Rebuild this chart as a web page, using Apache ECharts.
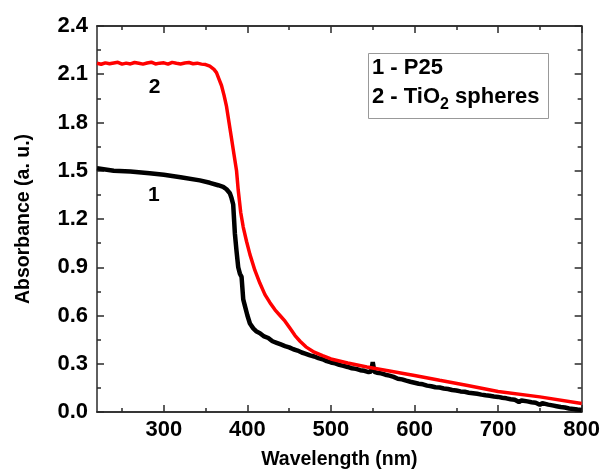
<!DOCTYPE html>
<html>
<head>
<meta charset="utf-8">
<script src="https://cdn.jsdelivr.net/npm/echarts@6/dist/echarts.min.js"></script>
<style>html,body{margin:0;padding:0;background:#fff}#c{width:603px;height:475px}</style>
</head>
<body>
<div id="c"></div>
<script>
// Series 2: TiO2 spheres (red)
const wl2 = [220,225,230,235,240,245,250,255,260,265,270,275,280,285,290,295,300,305,310,315,320,325,330,335,340,345,350,
  355,360,363,366,369,372,375,378,381,384,387,389,392,395,399,403,409,415,421,427,433,439,445,451,457,463,470,480,490,500,520,543,570,600,630,662,700,750,800];
const abs2 = [2.168,2.162,2.171,2.165,2.17,2.174,2.163,2.169,2.164,2.173,2.168,2.163,2.17,2.175,2.164,2.169,2.171,2.163,2.174,2.168,2.164,2.17,2.173,2.165,2.169,2.163,2.16,
  2.15,2.13,2.11,2.07,2.03,1.97,1.90,1.80,1.70,1.60,1.50,1.38,1.24,1.15,1.06,0.98,0.88,0.80,0.73,0.68,0.635,0.60,0.565,0.52,0.475,0.44,0.405,0.372,0.35,0.33,0.305,0.28,0.255,0.227,0.197,0.166,0.127,0.094,0.053];

// Series 1: P25 (black)
const wl1 = [220,240,260,283,300,320,343,355,365,371,375,379,381,383,384,385,387,389,391,393,395,397,400,403,407,411,415,420,425,430,435,
  440,445,450,455,460,465,470,475,480,485,490,495,500,505,510,515,520,525,530,535,540,545,548,550,552,555,560,565,570,575,580,585,590,595,600,
  605,610,615,620,625,630,635,640,645,650,655,660,665,670,675,680,685,690,695,700,705,710,715,720,725,728,735,740,745,750,753,760,765,770,775,780,785,790,795,800];
const abs1 = [1.515,1.50,1.495,1.485,1.475,1.46,1.44,1.425,1.41,1.40,1.385,1.36,1.33,1.29,1.20,1.11,1.00,0.90,0.86,0.84,0.70,0.66,0.60,0.55,0.52,0.50,0.49,0.47,0.46,0.44,0.43,
  0.42,0.41,0.402,0.39,0.382,0.37,0.362,0.352,0.345,0.335,0.328,0.316,0.308,0.302,0.293,0.287,0.28,0.272,0.268,0.26,0.256,0.248,0.252,0.31,0.25,0.244,0.24,0.232,0.226,0.218,0.207,0.203,0.195,0.188,0.182,
  0.176,0.172,0.164,0.16,0.154,0.152,0.146,0.143,0.137,0.134,0.128,0.126,0.12,0.117,0.113,0.108,0.104,0.101,0.096,0.094,0.089,0.085,0.079,0.076,0.062,0.072,0.066,0.061,0.058,0.045,0.055,0.046,0.041,0.036,0.031,0.028,0.022,0.019,0.015,0.012];

const xMajor = [300,400,500,600,700,800];
const xMinor = [250,350,450,550,650,750];
const curveLabels = [{name:'2', wl:289, v:2.02}, {name:'1', wl:288, v:1.35}];

const FONT = '"Liberation Sans", Arial, sans-serif';
const AXC = '#2a2a2a';

function xAx(pos, vals, len, labels) {
  return {
    type:'value', position:pos, min:220, max:800, splitLine:{show:false},
    axisLine:{show:true, onZero:false, lineStyle:{color:AXC, width:1.5}},
    axisTick:{show:true, inside:true, length:len, customValues:vals, lineStyle:{color:AXC, width:1.5}},
    axisLabel: labels ? {show:true, customValues:xMajor, color:'#000', fontFamily:FONT, fontWeight:'bold', fontSize:22, margin:7} : {show:false},
    name: labels ? 'Wavelength (nm)' : '', nameLocation:'middle', nameGap:38,
    nameTextStyle:{color:'#000', fontFamily:FONT, fontWeight:'bold', fontSize:19.5}
  };
}
function yAx(pos, labels) {
  return {
    type:'value', position:pos, min:0, max:2.4, interval:0.3, splitLine:{show:false},
    axisLine:{show:true, onZero:false, lineStyle:{color:AXC, width:1.5}},
    axisTick:{show:true, inside:true, length:7, lineStyle:{color:AXC, width:1.5}},
    minorTick:{show:true, splitNumber:2, length:4, lineStyle:{color:AXC, width:1.5}},
    minorSplitLine:{show:false},
    axisLabel: labels ? {show:true, color:'#000', fontFamily:FONT, fontWeight:'bold', fontSize:22, margin:9, formatter:v=>v.toFixed(1)} : {show:false},
    name: labels ? 'Absorbance (a. u.)' : '', nameLocation:'middle', nameGap:63, nameRotate:90,
    nameTextStyle:{color:'#000', fontFamily:FONT, fontWeight:'bold', fontSize:19.5}
  };
}

const chart = echarts.init(document.getElementById('c'));
chart.setOption({
  animation:false,
  backgroundColor:'#fff',
  grid:{left:97, right:21, top:26, bottom:58},
  xAxis:[xAx('bottom', xMajor, 7, true), xAx('bottom', xMinor, 4, false), xAx('top', xMajor, 7, false), xAx('top', xMinor, 4, false)],
  yAxis:[yAx('left', true), yAx('right', false)],
  series:[
    {type:'line', xAxisIndex:0, yAxisIndex:0, data:wl1.map((w,i)=>[w,abs1[i]]), showSymbol:false, symbol:'none',
     lineStyle:{color:'#000', width:4.5}, z:2,
     markPoint:{symbol:'circle', symbolSize:0, data:[{coord:[curveLabels[1].wl, curveLabels[1].v], value:curveLabels[1].name}],
       label:{show:true, formatter:'{c}', color:'#000', fontFamily:FONT, fontWeight:'bold', fontSize:21}}},
    {type:'line', xAxisIndex:0, yAxisIndex:0, data:wl2.map((w,i)=>[w,abs2[i]]), showSymbol:false, symbol:'none',
     lineStyle:{color:'#ff0000', width:3.5}, z:3,
     markPoint:{symbol:'circle', symbolSize:0, data:[{coord:[curveLabels[0].wl, curveLabels[0].v], value:curveLabels[0].name}],
       label:{show:true, formatter:'{c}', color:'#000', fontFamily:FONT, fontWeight:'bold', fontSize:21}}}
  ],
  graphic:[
    {type:'rect', left:368, top:53, shape:{width:180, height:65}, style:{fill:'#fff', stroke:'#999', lineWidth:1}, z:10},
    {type:'text', left:372, top:57, z:11, style:{text:'1 - P25', fill:'#000', font:'bold 22px "Liberation Sans", Arial, sans-serif'}},
    {type:'text', left:372, top:86, z:11, style:{text:'{a|2 - TiO}{s|2}{a| spheres}', fill:'#000',
      rich:{a:{fontFamily:FONT, fontWeight:'bold', fontSize:22, fill:'#000', lineHeight:24, verticalAlign:'top', padding:[0,0,0,0]},
            s:{fontFamily:FONT, fontWeight:'bold', fontSize:16, fill:'#000', lineHeight:24, verticalAlign:'top', padding:[11,0,0,0]}}}}
  ]
});
</script>
</body>
</html>
